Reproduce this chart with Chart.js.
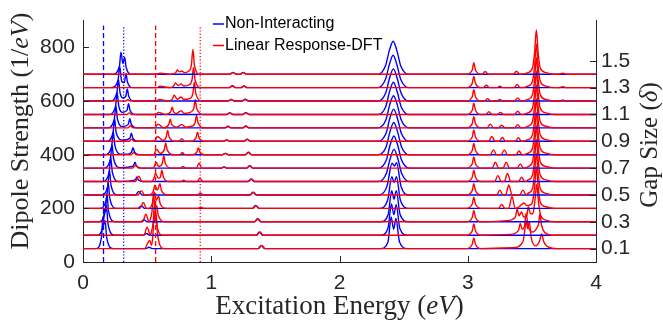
<!DOCTYPE html>
<html lang="en">
<head>
<meta charset="UTF-8">
<title>Dipole Strength vs Excitation Energy</title>
<script src="https://cdn.jsdelivr.net/npm/chart.js"></script>
<style>
  html, body { margin: 0; padding: 0; background: #fff; }
  canvas { display: block; }
</style>
</head>
<body>
<canvas id="spectra" width="663" height="327"></canvas>
<script>
// stacked spectra, one per gap size, bottom (0.1) to top (1.4)
const gapSizes = [0.1, 0.2, 0.3, 0.4, 0.5, 0.6, 0.7, 0.8, 0.9, 1.0, 1.1, 1.2, 1.3, 1.4];
const energyTicks = [0, 1, 2, 3, 4];
const strengthTicks = [0, 200, 400, 600, 800];
const gapTicks = [0.1, 0.3, 0.5, 0.7, 0.9, 1.1, 1.3, 1.5];
const seriesNames = ['Non-Interacting', 'Linear Response-DFT'];
const guideEnergies = [0.16, 0.317, 0.566, 0.914];   // blue dashed, blue dotted, red dashed, red dotted
const strengthPerGap = 500;                           // spectrum for gap g sits at 500*g

// curve vertices: [eV, strength] or [eV, peak height, half base width]
const niLow = [
  [[0.10,0],[0.145,45],[0.155,120],[0.163,90],[0.172,105],[0.185,40],[0.235,0],[0.515,5,0.025]],
  [[0.11,0],[0.158,40],[0.168,100],[0.175,88],[0.182,112],[0.195,42],[0.245,0],[0.495,6,0.025]],
  [[0.12,0],[0.174,40],[0.186,104],[0.199,40],[0.25,0],[0.475,8,0.025]],
  [[0.13,0],[0.184,37],[0.196,97],[0.209,37],[0.26,0],[0.455,10,0.025]],
  [[0.14,0],[0.194,35],[0.206,93],[0.219,35],[0.27,0],[0.435,13,0.025]],
  [[0.15,0],[0.204,34],[0.216,90],[0.229,34],[0.28,0],[0.408,6],[0.42,17],[0.432,6],[0.47,0]],
  [[0.16,0],[0.214,34],[0.226,88],[0.239,34],[0.29,2],[0.393,8],[0.405,22],[0.417,8],[0.46,0]],
  [[0.17,0],[0.224,33],[0.236,86],[0.249,33],[0.30,2],[0.35,2],[0.378,10],[0.39,26],[0.402,10],[0.44,0]],
  [[0.18,0],[0.234,32],[0.246,84],[0.259,32],[0.31,4],[0.365,11],[0.377,30],[0.389,11],[0.43,0]],
  [[0.19,0],[0.244,32],[0.256,83],[0.269,32],[0.31,5],[0.353,13],[0.365,35],[0.377,13],[0.42,0]],
  [[0.20,0],[0.254,31],[0.266,82],[0.279,31],[0.31,8],[0.343,15],[0.355,40],[0.367,15],[0.41,0]],
  [[0.21,0],[0.264,31],[0.276,81],[0.289,31],[0.31,12],[0.333,17],[0.345,45],[0.357,17],[0.40,0]],
  [[0.22,0],[0.274,30],[0.286,80],[0.299,30],[0.312,19],[0.323,20],[0.335,52],[0.347,20],[0.39,0]],
  [[0.23,0],[0.284,30],[0.296,82],[0.311,40],[0.325,64],[0.337,24],[0.38,0]]
];
const niMid = [
  [[1.39,12,0.025]], [[1.375,12,0.025]], [[1.36,11,0.025]], [[1.345,11,0.025]],
  [[1.325,10,0.025]], [[1.31,10,0.025]],
  [[1.10,4,0.025],[1.30,9,0.025]], [[1.11,5,0.025],[1.29,9,0.025]],
  [[1.12,5,0.025],[1.28,8,0.025]], [[1.13,6,0.025],[1.27,7,0.025]],
  [[1.145,6,0.025],[1.27,7,0.025]], [[1.155,6,0.025],[1.265,7,0.025]],
  [[1.165,7,0.025],[1.255,6,0.025]], [[1.17,7,0.025],[1.25,7,0.025]]
];
const niMain = [
  [[2.32,0],[2.378,25],[2.403,118],[2.422,72],[2.44,112],[2.468,25],[2.53,0]],
  [[2.32,0],[2.378,26],[2.405,116],[2.424,76],[2.442,114],[2.47,26],[2.53,0]],
  [[2.32,0],[2.38,28],[2.407,116],[2.425,84],[2.443,116],[2.472,28],[2.535,0]],
  [[2.31,0],[2.375,30],[2.408,118],[2.426,96],[2.444,118],[2.475,30],[2.54,0]],
  [[2.31,0],[2.37,32],[2.41,118],[2.428,108],[2.445,120],[2.48,32],[2.54,0]],
  [[2.305,0],[2.365,30],[2.395,85],[2.425,120],[2.455,85],[2.485,30],[2.545,0]],
  [[2.305,0],[2.365,30],[2.394,85],[2.424,120],[2.454,85],[2.484,30],[2.544,0]],
  [[2.30,0],[2.364,30],[2.393,85],[2.423,120],[2.453,85],[2.483,30],[2.543,0]],
  [[2.30,0],[2.363,30],[2.392,85],[2.422,120],[2.452,85],[2.482,30],[2.542,0]],
  [[2.30,0],[2.362,30],[2.391,85],[2.421,120],[2.451,85],[2.481,30],[2.541,0]],
  [[2.30,0],[2.361,30],[2.39,85],[2.42,120],[2.45,85],[2.48,30],[2.54,0]],
  [[2.30,0],[2.36,30],[2.39,85],[2.42,120],[2.45,85],[2.48,30],[2.54,0]],
  [[2.298,0],[2.358,30],[2.388,85],[2.418,121],[2.448,85],[2.478,30],[2.538,0]],
  [[2.298,0],[2.358,31],[2.388,87],[2.418,123],[2.448,87],[2.478,31],[2.538,0]]
];
const lrLow = [
  [[0.48,0],[0.52,30],[0.535,12],[0.545,50],[0.555,140],[0.562,95],[0.57,130],[0.582,50],[0.63,0]],
  [[0.50,30,0.025],[0.528,3],[0.548,50],[0.56,130],[0.572,50],[0.62,0]],
  [[0.49,28,0.025],[0.52,3],[0.538,38],[0.55,100],[0.562,50],[0.575,60],[0.587,23],[0.64,0]],
  [[0.47,22,0.025],[0.515,0],[0.543,23],[0.555,60],[0.572,30],[0.59,45],[0.602,17],[0.65,0],[0.92,4,0.022]],
  [[0.455,16,0.025],[0.52,0],[0.548,14],[0.56,36],[0.58,18],[0.60,42],[0.612,16],[0.66,0],[0.915,7,0.022]],
  [[0.435,20,0.025],[0.53,0],[0.553,11],[0.565,30],[0.588,12],[0.603,16],[0.615,42],[0.627,16],[0.67,0],[0.785,5,0.02],[0.912,12,0.022]],
  [[0.41,10,0.025],[0.545,0],[0.558,8],[0.57,22],[0.59,6],[0.618,17],[0.63,45],[0.642,17],[0.69,0],[0.78,6,0.02],[0.905,18,0.022]],
  [[0.395,8,0.02],[0.55,0],[0.575,20],[0.60,5],[0.633,17],[0.645,44],[0.657,17],[0.71,0],[0.775,8,0.02],[0.85,0],[0.888,10],[0.90,26],[0.912,10],[0.95,0]],
  [[0.38,8,0.02],[0.555,0],[0.58,18],[0.625,3],[0.648,15],[0.66,40],[0.672,15],[0.72,0],[0.77,10,0.02],[0.84,0],[0.881,13],[0.893,34],[0.905,13],[0.95,0]],
  [[0.37,8,0.02],[0.56,0],[0.585,14],[0.63,0],[0.668,12],[0.68,32],[0.692,12],[0.73,3],[0.77,12],[0.80,3],[0.85,6],[0.873,18],[0.885,46],[0.897,18],[0.95,0]],
  [[0.36,6,0.02],[0.565,0],[0.59,8],[0.64,0],[0.683,10],[0.695,27],[0.707,10],[0.73,4],[0.765,14],[0.79,4],[0.835,8],[0.863,21],[0.875,55],[0.887,21],[0.94,0]],
  [[0.35,5,0.02],[0.57,0],[0.595,6],[0.66,0],[0.698,8],[0.71,22],[0.735,7],[0.765,15],[0.785,6],[0.83,9],[0.856,27],[0.868,70],[0.88,27],[0.93,0]],
  [[0.575,0],[0.60,5],[0.68,0],[0.708,7],[0.72,18],[0.742,8],[0.765,14],[0.785,6],[0.825,10],[0.85,29],[0.862,75],[0.874,29],[0.92,0]],
  [[0.575,0],[0.60,4],[0.69,0],[0.723,6],[0.735,16],[0.752,9],[0.77,12],[0.79,6],[0.82,10],[0.845,34],[0.857,92],[0.869,34],[0.91,0]]
];
const lrMid = [
  [[1.395,12,0.025]], [[1.38,12,0.025]], [[1.365,11,0.025]], [[1.35,10,0.025]],
  [[1.33,10,0.025]], [[1.315,9,0.025]],
  [[1.10,4,0.025],[1.30,8,0.025]], [[1.11,5,0.025],[1.29,8,0.025]],
  [[1.12,5,0.025],[1.28,7,0.025]], [[1.13,5,0.025],[1.27,6,0.025]],
  [[1.145,6,0.025],[1.27,6,0.025]], [[1.155,6,0.025],[1.265,6,0.025]],
  [[1.165,6,0.025],[1.255,6,0.025]], [[1.17,6,0.025],[1.25,6,0.025]]
];
const lrHigh = [
  [[2.99,0],[3.035,16],[3.047,40],[3.06,16],[3.105,0],[3.35,3],[3.43,25],[3.445,70],[3.455,105],[3.467,75],[3.48,100],[3.495,40],[3.53,10],[3.56,28],[3.577,55],[3.592,26],[3.63,5],[3.70,0]],
  [[2.99,0],[3.035,16],[3.047,42],[3.06,16],[3.105,0],[3.33,3],[3.396,18],[3.41,44],[3.425,22],[3.442,32],[3.455,82],[3.47,35],[3.51,12],[3.54,28],[3.552,42],[3.563,80],[3.575,38],[3.60,10],[3.66,0]],
  [[2.99,0],[3.035,16],[3.047,42],[3.06,16],[3.105,0],[3.30,4],[3.372,18],[3.385,48],[3.40,22],[3.42,37],[3.435,18],[3.46,22],[3.472,55],[3.49,30],[3.508,30],[3.523,75],[3.538,140],[3.552,72],[3.568,24],[3.61,6],[3.68,0]],
  [[2.99,0],[3.035,16],[3.047,42],[3.06,16],[3.105,0],[3.265,15,0.025],[3.345,44,0.025],[3.40,6],[3.44,20],[3.46,10],[3.49,14],[3.505,24],[3.521,80],[3.535,155],[3.549,80],[3.565,24],[3.61,6],[3.68,0]],
  [[2.99,0],[3.035,16],[3.047,42],[3.06,16],[3.105,0],[3.25,18,0.025],[3.32,37,0.025],[3.43,18,0.025],[3.47,6],[3.505,24],[3.521,80],[3.535,156],[3.549,80],[3.565,24],[3.61,6],[3.68,0]],
  [[2.99,0],[3.035,16],[3.047,42],[3.06,16],[3.105,0],[3.235,22,0.025],[3.31,30,0.025],[3.42,16,0.025],[3.47,6],[3.505,24],[3.521,80],[3.535,157],[3.549,80],[3.565,24],[3.61,6],[3.68,0]],
  [[2.99,0],[3.035,16],[3.047,42],[3.06,16],[3.105,0],[3.215,22,0.025],[3.30,22,0.025],[3.41,16,0.025],[3.47,6],[3.505,24],[3.521,80],[3.535,158],[3.549,80],[3.565,24],[3.61,6],[3.68,0]],
  [[2.99,0],[3.035,16],[3.047,42],[3.06,16],[3.105,0],[3.20,18,0.025],[3.285,18,0.025],[3.40,14,0.025],[3.47,6],[3.505,24],[3.521,80],[3.535,158],[3.549,80],[3.565,24],[3.61,6],[3.68,0]],
  [[2.99,0],[3.035,16],[3.047,42],[3.06,16],[3.105,0],[3.188,18,0.025],[3.27,14,0.025],[3.395,13,0.025],[3.47,6],[3.505,24],[3.521,80],[3.535,159],[3.549,80],[3.565,24],[3.61,6],[3.68,0]],
  [[2.99,0],[3.035,16],[3.047,42],[3.06,16],[3.105,0],[3.175,14,0.025],[3.265,10,0.025],[3.39,12,0.025],[3.47,6],[3.505,24],[3.521,80],[3.535,160],[3.549,80],[3.565,24],[3.61,6],[3.68,0]],
  [[2.99,0],[3.035,16],[3.047,42],[3.06,16],[3.105,0],[3.165,10,0.025],[3.255,8,0.025],[3.39,12,0.025],[3.47,6],[3.505,24],[3.521,80],[3.535,161],[3.549,80],[3.565,24],[3.61,6],[3.68,0]],
  [[2.99,0],[3.035,16],[3.047,42],[3.06,16],[3.105,0],[3.155,9,0.025],[3.25,6,0.025],[3.39,12,0.025],[3.47,6],[3.505,24],[3.521,80],[3.535,162],[3.549,80],[3.565,24],[3.61,6],[3.68,0],[3.74,4,0.03]],
  [[2.99,0],[3.035,16],[3.047,42],[3.06,16],[3.105,0],[3.145,9,0.025],[3.25,5,0.025],[3.385,12,0.025],[3.47,6],[3.505,24],[3.521,80],[3.535,163],[3.549,80],[3.565,24],[3.61,6],[3.68,0],[3.74,4,0.03]],
  [[2.99,0],[3.035,16],[3.047,43],[3.06,16],[3.105,0],[3.136,10,0.025],[3.38,11,0.025],[3.47,6],[3.505,24],[3.521,80],[3.535,165],[3.549,80],[3.565,24],[3.61,6],[3.68,0],[3.74,4,0.03]]
];

const BLUE = '#0000ff', RED = '#ff0000', AXIS = '#262626';

function buildCurve(parts, base) {
  const raw = [{x: 0, y: base}];
  parts.forEach(p => {
    if (p.length === 3) {
      raw.push({x: p[0] - p[2], y: base}, {x: p[0], y: base + p[1]}, {x: p[0] + p[2], y: base});
    } else {
      raw.push({x: p[0], y: base + p[1]});
    }
  });
  raw.push({x: 4, y: base});
  raw.sort((a, b) => a.x - b.x);
  return raw.filter((pt, i) => i === 0 || pt.x > raw[i - 1].x + 1e-9);
}

const datasets = [];
const n = gapSizes.length;
gapSizes.forEach((g, i) => {
  const base = strengthPerGap * g;
  datasets.push({
    label: seriesNames[0], data: buildCurve([].concat(niLow[i], niMid[i], niMain[i]), base),
    borderColor: BLUE, order: 2 + 2 * (n - 1 - i)
  });
  datasets.push({
    label: seriesNames[1], data: buildCurve([].concat(lrLow[i], lrMid[i], lrHigh[i]), base),
    borderColor: RED, order: 1 + 2 * (n - 1 - i)
  });
});
const guideStyles = [
  {color: BLUE, dash: [5, 3]}, {color: BLUE, dash: [1.2, 2]},
  {color: RED, dash: [5, 3]}, {color: RED, dash: [1.2, 2]}
];
guideEnergies.forEach((e, i) => {
  datasets.push({
    label: 'guide', data: [{x: e, y: 0}, {x: e, y: 882}],
    borderColor: guideStyles[i].color, borderDash: guideStyles[i].dash,
    borderWidth: 1.3, cubicInterpolationMode: 'default', tension: 0, order: 0
  });
});

function drawRich(ctx, parts, cx, cy, angle, size) {
  ctx.save();
  ctx.translate(cx, cy);
  ctx.rotate(angle);
  const fontOf = it => (it ? 'italic ' : '') + size + 'px "Liberation Serif"';
  let total = 0;
  parts.forEach(p => { ctx.font = fontOf(p[1]); total += ctx.measureText(p[0]).width; });
  let x = -total / 2;
  ctx.fillStyle = AXIS;
  ctx.textBaseline = 'middle';
  parts.forEach(p => { ctx.font = fontOf(p[1]); ctx.fillText(p[0], x, 0); x += ctx.measureText(p[0]).width; });
  ctx.restore();
}

const decorations = {
  id: 'decorations',
  afterDraw(chart) {
    const {ctx, chartArea: a, scales} = chart;
    ctx.save();
    // inward tick marks
    ctx.strokeStyle = AXIS;
    ctx.lineWidth = 1;
    ctx.beginPath();
    scales.x.ticks.forEach(t => {
      const px = Math.round(scales.x.getPixelForValue(t.value)) + 0.5;
      ctx.moveTo(px, a.bottom); ctx.lineTo(px, a.bottom - 6);
    });
    scales.y.ticks.forEach(t => {
      const py = Math.round(scales.y.getPixelForValue(t.value)) + 0.5;
      ctx.moveTo(a.left, py); ctx.lineTo(a.left + 6, py);
    });
    scales.y2.ticks.forEach(t => {
      const py = Math.round(scales.y2.getPixelForValue(t.value)) + 0.5;
      ctx.moveTo(a.right, py); ctx.lineTo(a.right - 6, py);
    });
    ctx.stroke();

    // legend
    const colors = [BLUE, RED];
    ctx.font = '16px "Liberation Sans"';
    ctx.textBaseline = 'middle';
    seriesNames.forEach((name, i) => {
      const y = 24 + i * 21.5;
      ctx.strokeStyle = colors[i];
      ctx.lineWidth = 1.5;
      ctx.beginPath(); ctx.moveTo(213, y); ctx.lineTo(224, y); ctx.stroke();
      ctx.fillStyle = '#000';
      ctx.fillText(name, 225, y);
    });
    ctx.restore();

    // axis titles
    drawRich(ctx, [['Excitation Energy (', false], ['eV', true], [')', false]], (a.left + a.right) / 2, 307, 0, 27);
    drawRich(ctx, [['Dipole Strength (1/', false], ['eV', true], [')', false]], 21, 131, -Math.PI / 2, 26);
    drawRich(ctx, [['Gap Size (', false], ['δ', true], [')', false]], 650, 145, -Math.PI / 2, 25);
  }
};

const tickFont = {family: '"Liberation Sans", Arial, sans-serif', size: 21};
new Chart(document.getElementById('spectra'), {
  type: 'line',
  data: {datasets: datasets},
  options: {
    responsive: false,
    animation: false,
    parsing: false,
    layout: {padding: {top: 16, left: 0, right: 0, bottom: 0}},
    plugins: {legend: {display: false}, tooltip: {enabled: false}},
    elements: {
      point: {radius: 0},
      line: {borderWidth: 1.4, cubicInterpolationMode: 'monotone', fill: false}
    },
    scales: {
      x: {
        type: 'linear', min: 0, max: 4,
        afterBuildTicks: s => { s.ticks = energyTicks.map(v => ({value: v})); },
        afterFit: s => { s.height = 65; },
        grid: {display: false, drawTicks: false},
        border: {display: true, color: AXIS, width: 1},
        ticks: {font: tickFont, color: AXIS, padding: 9, maxRotation: 0}
      },
      y: {
        type: 'linear', position: 'left', min: 0, max: 900,
        afterBuildTicks: s => { s.ticks = strengthTicks.map(v => ({value: v})); },
        afterFit: s => { s.width = 83; },
        grid: {display: false, drawTicks: false},
        border: {display: true, color: AXIS, width: 1},
        ticks: {font: tickFont, color: AXIS, padding: 8}
      },
      y2: {
        type: 'linear', position: 'right', min: 0, max: 900 / strengthPerGap,
        afterBuildTicks: s => { s.ticks = gapTicks.map(v => ({value: v})); },
        afterFit: s => { s.width = 67; },
        grid: {display: false, drawTicks: false},
        border: {display: true, color: AXIS, width: 1},
        ticks: {font: tickFont, color: AXIS, padding: 5, callback: v => v.toFixed(1)}
      }
    }
  },
  plugins: [decorations]
});
</script>
</body>
</html>
